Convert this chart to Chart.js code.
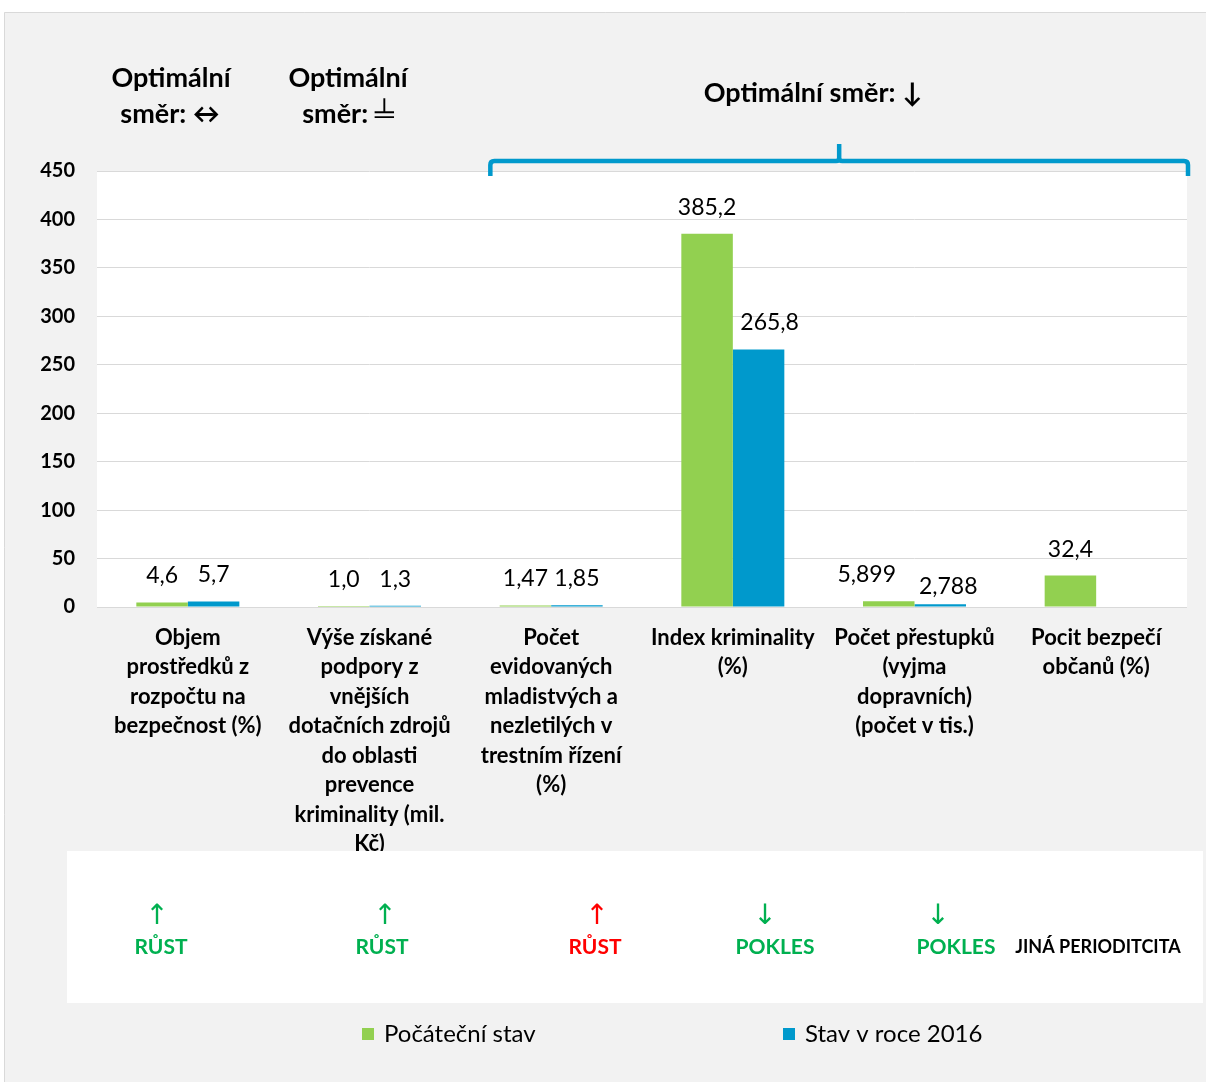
<!DOCTYPE html>
<html><head><meta charset="utf-8">
<script src="https://cdn.jsdelivr.net/npm/chart.js@4.4.1/dist/chart.umd.min.js"></script>
<style>html,body{margin:0;padding:0;background:#fff;overflow:hidden}</style>
</head><body><canvas id="c" width="1206" height="1082" style="display:block;width:1206px;height:1082px"></canvas>
<script>
// ---- data ----
const categories = [
  ['Objem', 'prostředků z', 'rozpočtu na', 'bezpečnost (%)'],
  ['Výše získané', 'podpory z', 'vnějších', 'dotačních zdrojů', 'do oblasti', 'prevence', 'kriminality (mil.', 'Kč)'],
  ['Počet', 'evidovaných', 'mladistvých a', 'nezletilých v', 'trestním řízení', '(%)'],
  ['Index kriminality', '(%)'],
  ['Počet přestupků', '(vyjma', 'dopravních)', '(počet v tis.)'],
  ['Pocit bezpečí', 'občanů (%)']
];
const seriesNames = ['Počáteční stav', 'Stav v roce 2016'];
const initialValues = [4.6, 1.0, 1.47, 385.2, 5.899, 32.4];
const values2016 = [5.7, 1.3, 1.85, 265.8, 2.788, null];
const labelDecimals = [1, 1, 2, 1, 3, 1];
const yTickValues = [0, 50, 100, 150, 200, 250, 300, 350, 400, 450];
const directionNotes = [
  {lines: ['Optimální', 'směr: ↔']},
  {lines: ['Optimální', 'směr: ╧']},
  {lines: ['Optimální směr: ↓']}
];
const trendArrows = ['↑', '↑', '↑', '↓', '↓', ''];
const trendTexts = ['RŮST', 'RŮST', 'RŮST', 'POKLES', 'POKLES', 'JINÁ PERIODITCITA'];

// ---- styles ----
const GREEN = '#92d050', BLUE = '#0099cc';
const trendColors = ['#00b050', '#00b050', '#ff0000', '#00b050', '#00b050', '#000000'];
const FONT = 'Lato, "Open Sans", sans-serif';

const decoPlugin = {
  id: 'deco',
  beforeDraw(chart) {
    const ctx = chart.ctx, a = chart.chartArea;
    ctx.save();
    ctx.fillStyle = '#ffffff';
    ctx.fillRect(0, 0, chart.width, chart.height);
    ctx.fillStyle = '#f2f2f2';
    ctx.fillRect(4, 12, chart.width, chart.height);
    ctx.strokeStyle = '#d9d9d9';
    ctx.lineWidth = 1;
    ctx.beginPath();
    ctx.moveTo(4.5, chart.height); ctx.lineTo(4.5, 12.5); ctx.lineTo(chart.width, 12.5);
    ctx.stroke();
    ctx.fillStyle = '#ffffff';
    ctx.fillRect(a.left, a.top, a.right - a.left, a.bottom - a.top);
    ctx.restore();
  },
  afterDraw(chart) {
    const ctx = chart.ctx, a = chart.chartArea;
    const xs = chart.scales.x;
    ctx.save();
    // data labels
    ctx.font = '23px ' + FONT;
    ctx.fillStyle = '#000';
    ctx.textAlign = 'center';
    ctx.textBaseline = 'middle';
    const nudge = {'1-3': [11, 0], '0-4': [-22, 0], '1-4': [8, 8.5]};
    chart.data.datasets.forEach((ds, di) => {
      const meta = chart.getDatasetMeta(di);
      meta.data.forEach((bar, i) => {
        const v = ds.data[i];
        if (v === null || v === undefined) return;
        const txt = v.toFixed(labelDecimals[i]).replace('.', ',');
        const n = nudge[di + '-' + i] || [0, 0];
        ctx.fillText(txt, bar.x + n[0], bar.y - 26.5 + n[1]);
      });
    });
    // direction notes
    ctx.font = 'bold 27px ' + FONT;
    ctx.fillText(directionNotes[0].lines[0], 171, 78);
    ctx.fillText(directionNotes[0].lines[1], 170, 114);
    ctx.fillText(directionNotes[1].lines[0], 348, 78);
    ctx.fillText(directionNotes[1].lines[1], 348, 114);
    ctx.fillText(directionNotes[2].lines[0], 813, 93);
    // brace
    const bl = xs.getPixelForValue(2) - (xs.getPixelForValue(1) - xs.getPixelForValue(0)) / 2 + 30;
    const br = a.right + 1;
    const bm = (bl + br) / 2;
    const by = 161, r = 4;
    ctx.strokeStyle = BLUE;
    ctx.lineWidth = 4.5;
    ctx.lineJoin = 'round';
    ctx.lineCap = 'butt';
    ctx.beginPath();
    ctx.moveTo(bl, 176);
    ctx.lineTo(bl, by + r);
    ctx.quadraticCurveTo(bl, by, bl + r, by);
    ctx.lineTo(bm - 3, by);
    ctx.quadraticCurveTo(bm, by, bm, by - 3);
    ctx.lineTo(bm, 144);
    ctx.moveTo(bm, by - 3);
    ctx.quadraticCurveTo(bm, by, bm + 3, by);
    ctx.lineTo(br - r, by);
    ctx.quadraticCurveTo(br, by, br, by + r);
    ctx.lineTo(br, 176);
    ctx.stroke();
    // trend box
    ctx.fillStyle = '#ffffff';
    ctx.fillRect(67, 851, 1136, 152);
    const arrowX = [157, 385, 597, 765, 938, 0];
    const textX = [161, 382, 595, 775, 956, 1098];
    trendTexts.forEach((t, i) => {
      ctx.fillStyle = trendColors[i];
      if (trendArrows[i]) {
        ctx.font = '28px "DejaVu Sans", sans-serif';
        ctx.fillText(trendArrows[i], arrowX[i], 917);
      }
      ctx.font = (i === 5 ? 'bold 18px ' : 'bold 21px ') + FONT;
      ctx.fillText(t, textX[i], 947);
    });
    // legend
    ctx.textAlign = 'left';
    ctx.font = '24px ' + FONT;
    const lx = [362, 783];
    chart.data.datasets.forEach((ds, di) => {
      ctx.fillStyle = ds.backgroundColor;
      ctx.fillRect(lx[di], 1028, 12, 12);
      ctx.fillStyle = '#000';
      ctx.fillText(ds.label, lx[di] + 22, 1034);
    });
    ctx.restore();
  }
};

function build() {
  new Chart(document.getElementById('c'), {
    type: 'bar',
    data: {
      labels: categories,
      datasets: [
        {label: seriesNames[0], data: initialValues, backgroundColor: GREEN},
        {label: seriesNames[1], data: values2016, backgroundColor: BLUE}
      ]
    },
    options: {
      responsive: false,
      devicePixelRatio: 1,
      animation: false,
      layout: {padding: {left: 10, right: 19, top: 171, bottom: 0}},
      plugins: {legend: {display: false}, tooltip: {enabled: false}},
      datasets: {bar: {categoryPercentage: 0.567, barPercentage: 1.0}},
      scales: {
        x: {
          grid: {display: false, drawTicks: false},
          border: {display: false},
          ticks: {
            autoSkip: false, maxRotation: 0, minRotation: 0, padding: 16,
            color: '#000',
            font: {family: FONT, size: 22, weight: 'bold', lineHeight: 1.34}
          },
          afterFit(s) { s.height = 475; }
        },
        y: {
          min: 0, max: 450,
          afterBuildTicks(s) { s.ticks = yTickValues.map(v => ({value: v})); },
          grid: {color: '#d9d9d9', drawTicks: false, lineWidth: 1},
          border: {display: false},
          ticks: {
            padding: 22, color: '#000',
            font: {family: FONT, size: 20, weight: 'bold'}
          },
          afterFit(s) { s.width = 87; }
        }
      }
    },
    plugins: [decoPlugin]
  });
}
Promise.all([
  document.fonts.load('bold 22px Lato'),
  document.fonts.load('22px Lato')
]).then(build, build);
</script>
</body></html>
